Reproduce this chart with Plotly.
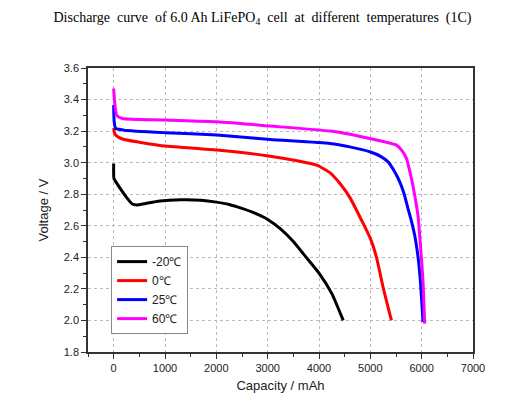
import plotly.graph_objects as go

# Curvas de descarga (mAh, V)
cap_m20 = [0, 5, 40, 120, 250, 363, 450, 600, 900, 1300, 1700, 2000, 2250, 2500, 2750, 3000, 3250, 3500, 3700, 4000, 4250, 4472]
volt_m20 = [2.995, 2.90, 2.88, 2.84, 2.78, 2.738, 2.732, 2.74, 2.757, 2.765, 2.762, 2.75, 2.735, 2.71, 2.68, 2.64, 2.58, 2.50, 2.42, 2.30, 2.17, 2.0]

cap_0 = [0, 15, 39, 100, 200, 500, 1010, 2013, 3049, 3600, 3955, 4200, 4408, 4600, 4829, 5000, 5120, 5249, 5411]
volt_0 = [3.22, 3.19, 3.175, 3.16, 3.147, 3.13, 3.105, 3.08, 3.041, 3.01, 2.984, 2.94, 2.868, 2.78, 2.635, 2.52, 2.40, 2.21, 2.0]

cap_25 = [0, 10, 39, 200, 1000, 2013, 3049, 4214, 4600, 4990, 5200, 5346, 5460, 5573, 5660, 5734, 5800, 5864, 5930, 5975, 6026]
volt_25 = [3.365, 3.26, 3.217, 3.206, 3.19, 3.175, 3.147, 3.122, 3.10, 3.069, 3.04, 3.005, 2.95, 2.878, 2.80, 2.709, 2.63, 2.54, 2.40, 2.25, 1.99]

cap_60 = [0, 20, 60, 168, 1000, 2013, 3049, 4214, 4600, 4990, 5300, 5508, 5620, 5702, 5780, 5864, 5930, 5961, 5994, 6026, 6058]
volt_60 = [3.47, 3.38, 3.30, 3.28, 3.27, 3.259, 3.232, 3.20, 3.18, 3.153, 3.13, 3.111, 3.075, 3.027, 2.93, 2.794, 2.66, 2.54, 2.40, 2.25, 1.98]

series = [
    ("-20℃", cap_m20, volt_m20, "#000000"),
    ("0℃", cap_0, volt_0, "#ff0000"),
    ("25℃", cap_25, volt_25, "#0000ff"),
    ("60℃", cap_60, volt_60, "#ff00ff"),
]

fig = go.Figure()
for nombre, x, y, color in series:
    fig.add_trace(go.Scatter(x=x, y=y, mode="lines", name=nombre,
                             line=dict(color=color, width=3, shape="spline", smoothing=0.5)))

# la página añade 8 px de margen al cuerpo: se compensa aquí
fig.update_layout(
    width=509, height=412,
    margin=dict(l=80, r=44, t=60, b=68),
    paper_bgcolor="white", plot_bgcolor="white",
    font=dict(family="Arial, Liberation Sans", size=11, color="#222"),
    title=dict(text="Discharge  curve  of 6.0 Ah LiFePO<sub>4</sub>  cell  at  different  temperatures  (1C)",
               font=dict(family="Liberation Serif", size=14, color="#000"),
               x=0.5, xanchor="center", y=0.977, yanchor="middle"),
    legend=dict(x=0.06, y=0.063, xanchor="left", yanchor="bottom",
                bordercolor="#888", borderwidth=1, bgcolor="white",
                font=dict(size=12, color="#222"), tracegroupgap=0),
    showlegend=True,
)

fig.update_xaxes(
    range=[-500, 7000], tickvals=[0, 1000, 2000, 3000, 4000, 5000, 6000, 7000],
    ticks="outside", ticklen=5, tickcolor="#333",
    minor=dict(ticks="outside", ticklen=3, dtick=500, tick0=0, tickcolor="#333"),
    showline=True, linecolor="#333", linewidth=1.5, mirror=True,
    showgrid=True, gridcolor="#bbb", griddash="dot", gridwidth=1,
    zeroline=False,
    title=dict(text="Capacity / mAh", font=dict(size=13, color="#222"), standoff=8),
)
fig.update_yaxes(
    range=[1.8, 3.6], dtick=0.2, tick0=1.8, tickformat=".1f",
    ticks="outside", ticklen=5, tickcolor="#333",
    minor=dict(ticks="outside", ticklen=3, dtick=0.1, tickcolor="#333"),
    showline=True, linecolor="#333", linewidth=1.5, mirror=True,
    showgrid=True, gridcolor="#bbb", griddash="dot", gridwidth=1,
    zeroline=False,
    title=dict(text="Voltage / V", font=dict(size=13, color="#222"), standoff=12),
)

fig.write_html("out.html")
